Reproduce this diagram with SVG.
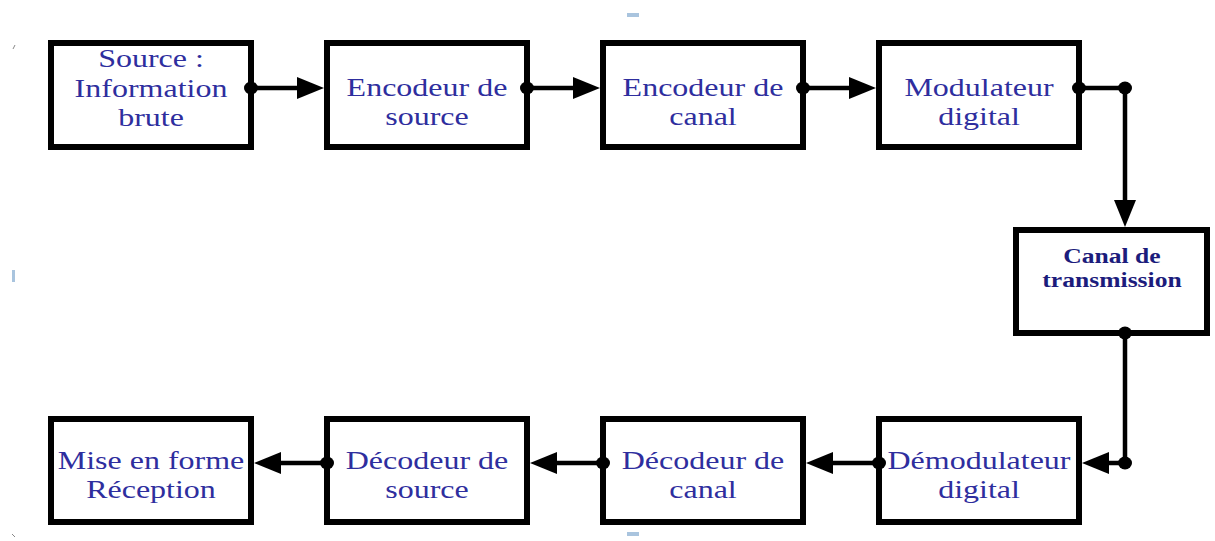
<svg xmlns="http://www.w3.org/2000/svg" width="1215" height="541" viewBox="0 0 1215 541">
<defs>
<style>
.box{fill:#fff;stroke:#000;stroke-width:6}
.t{font-family:"Liberation Serif","Times New Roman",serif;font-size:25px;fill:#2e2e9e;text-anchor:middle}
.tb{font-family:"Liberation Serif","Times New Roman",serif;font-size:20px;font-weight:bold;fill:#1c1c7c;text-anchor:middle}
.c{fill:none;stroke:#000;stroke-width:4.5;marker-end:url(#ah)}
.cn{fill:none;stroke:#000;stroke-width:4.5}
.dot{fill:#000}
.h{fill:#a9c4de}
</style>
<marker id="ah" markerUnits="userSpaceOnUse" markerWidth="28" markerHeight="24" refX="17" refY="11" orient="auto">
<path d="M0,0 L27,11 L0,22 Z" fill="#000"/>
</marker>
</defs>
<rect width="1215" height="541" fill="#fff"/>
<g id="artifacts">
<rect x="627" y="13" width="12" height="4" class="h"/>
<rect x="12" y="270" width="3" height="12" class="h"/>
<rect x="627" y="532" width="12" height="4" class="h"/>
<path d="M13,49 L15,45" stroke="#888" stroke-width="1"/>
<path d="M12,534 L15,537" stroke="#888" stroke-width="1"/>
</g>
<g id="n1"><rect class="box" x="51" y="43" width="200" height="104"/>
<text class="t" transform="translate(151,67) scale(1.28,1)">Source :</text>
<text class="t" transform="translate(151,97) scale(1.28,1)">Information</text>
<text class="t" transform="translate(151,126) scale(1.28,1)">brute</text></g>
<g id="n2"><rect class="box" x="327" y="43" width="200" height="104"/>
<text class="t" transform="translate(427,96) scale(1.28,1)">Encodeur de</text>
<text class="t" transform="translate(427,125) scale(1.28,1)">source</text></g>
<g id="n3"><rect class="box" x="603" y="43" width="200" height="104"/>
<text class="t" transform="translate(703,96) scale(1.28,1)">Encodeur de</text>
<text class="t" transform="translate(703,125) scale(1.28,1)">canal</text></g>
<g id="n4"><rect class="box" x="879" y="43" width="200" height="104"/>
<text class="t" transform="translate(979,96) scale(1.28,1)">Modulateur</text>
<text class="t" transform="translate(979,125) scale(1.28,1)">digital</text></g>
<g id="n5"><rect class="box" x="1016" y="230" width="191" height="103"/>
<text class="tb" transform="translate(1112,263) scale(1.28,1)">Canal de</text>
<text class="tb" transform="translate(1112,287) scale(1.28,1)">transmission</text></g>
<g id="n6"><rect class="box" x="879" y="419" width="200" height="103"/>
<text class="t" transform="translate(979,469) scale(1.28,1)">Démodulateur</text>
<text class="t" transform="translate(979,498) scale(1.28,1)">digital</text></g>
<g id="n7"><rect class="box" x="603" y="419" width="200" height="103"/>
<text class="t" transform="translate(703,469) scale(1.28,1)">Décodeur de</text>
<text class="t" transform="translate(703,498) scale(1.28,1)">canal</text></g>
<g id="n8"><rect class="box" x="327" y="419" width="200" height="103"/>
<text class="t" transform="translate(427,469) scale(1.28,1)">Décodeur de</text>
<text class="t" transform="translate(427,498) scale(1.28,1)">source</text></g>
<g id="n9"><rect class="box" x="51" y="419" width="200" height="103"/>
<text class="t" transform="translate(151,469) scale(1.28,1)">Mise en forme</text>
<text class="t" transform="translate(151,498) scale(1.28,1)">Réception</text></g>
<g id="connectors">
<path class="c" d="M251,88 H314"/>
<path class="c" d="M527,88 H590"/>
<path class="c" d="M803,88 H866"/>
<path class="c" d="M1079,88 H1125 V217"/>
<path class="c" d="M1125,333 V463 H1092"/>
<path class="c" d="M879,463 H816"/>
<path class="c" d="M603,463 H540"/>
<path class="c" d="M327,463 H264"/>
<ellipse class="dot" cx="251" cy="88" rx="7" ry="6.5"/>
<ellipse class="dot" cx="527" cy="88" rx="7" ry="6.5"/>
<ellipse class="dot" cx="803" cy="88" rx="7" ry="6.5"/>
<ellipse class="dot" cx="1079" cy="88" rx="7" ry="6.5"/>
<ellipse class="dot" cx="1125" cy="88" rx="7" ry="6.5"/>
<ellipse class="dot" cx="1125" cy="333" rx="7" ry="6.5"/>
<ellipse class="dot" cx="1125" cy="463" rx="7" ry="6.5"/>
<ellipse class="dot" cx="879" cy="463" rx="7" ry="6.5"/>
<ellipse class="dot" cx="603" cy="463" rx="7" ry="6.5"/>
<ellipse class="dot" cx="327" cy="463" rx="7" ry="6.5"/>
</g>
</svg>
